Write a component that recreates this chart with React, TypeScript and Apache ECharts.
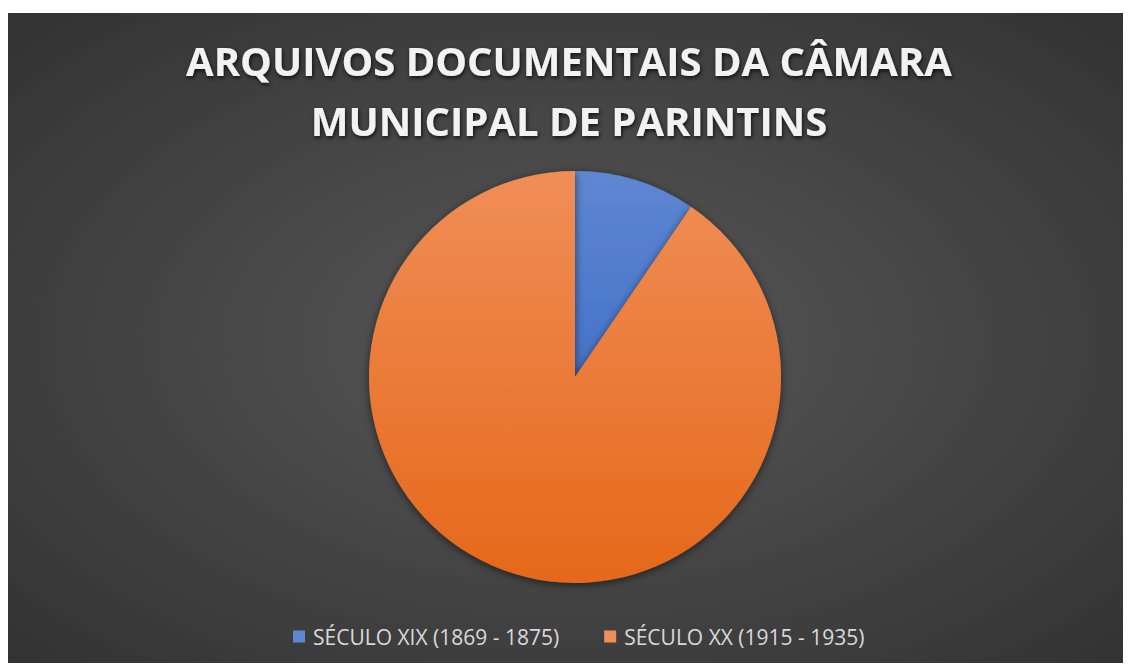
import React, { useEffect, useRef } from "react";
import * as echarts from "echarts";

const titleLines = ["ARQUIVOS DOCUMENTAIS DA CÂMARA", "MUNICIPAL DE PARINTINS"];
const categories = ["SÉCULO XIX (1869 - 1875)", "SÉCULO XX (1915 - 1935)"];
const values = [2, 19];

const W = 1124;
const H = 655;
const CX = 568;
const CY = 364;
const R = 206;

const grad = (top: string, bottom: string) =>
  new echarts.graphic.LinearGradient(0, CY - R, 0, CY + R, [
    { offset: 0, color: top },
    { offset: 1, color: bottom },
  ], true);

export default function App() {
  const ref = useRef<HTMLDivElement>(null);
  useEffect(() => {
    if (!ref.current) return;
    const chart = echarts.init(ref.current, null, { renderer: "svg" });
    const colors = [grad("#5e87d2", "#2c5dbf"), grad("#f08e57", "#e5681a")];
    chart.setOption({
      animation: false,
      backgroundColor: {
        type: "radial",
        x: 0.5,
        y: 0.5,
        r: 0.95,
        colorStops: [
          { offset: 0, color: "#585858" },
          { offset: 1, color: "#252525" },
        ],
      },
      title: {
        text: titleLines.join("\n"),
        left: "center",
        top: 12,
        textStyle: {
          color: "#f2f2f2",
          fontFamily: "Open Sans",
          fontWeight: "bold",
          fontSize: 40,
          lineHeight: 60,
          textShadowColor: "rgba(0,0,0,0.75)",
          textShadowBlur: 4,
          textShadowOffsetX: 1,
          textShadowOffsetY: 2,
        },
      },
      legend: {
        data: categories,
        left: 281,
        top: 608,
        itemWidth: 12,
        itemHeight: 12,
        itemGap: 45,
        icon: "rect",
        textStyle: {
          color: "#d9d9d9",
          fontFamily: "Open Sans",
          fontSize: 21,
          padding: [0, 0, 0, 3],
        },
      },
      series: [
        {
          type: "pie",
          center: [CX, CY],
          radius: [0, R],
          startAngle: 90,
          clockwise: true,
          label: { show: false },
          labelLine: { show: false },
          emphasis: { disabled: true },
          data: categories.map((name, i) => ({
            name,
            value: values[i],
            itemStyle: {
              color: colors[i],
              shadowColor: "rgba(0,0,0,0.55)",
              shadowBlur: 8,
              shadowOffsetX: 0,
              shadowOffsetY: 2,
            },
          })),
          itemStyle: { borderWidth: 0 },
        },
      ],
    });
    return () => chart.dispose();
  }, []);
  return (
    <div
      ref={ref}
      style={{ width: W, height: H, position: "relative", left: -1, top: 5 }}
    />
  );
}
